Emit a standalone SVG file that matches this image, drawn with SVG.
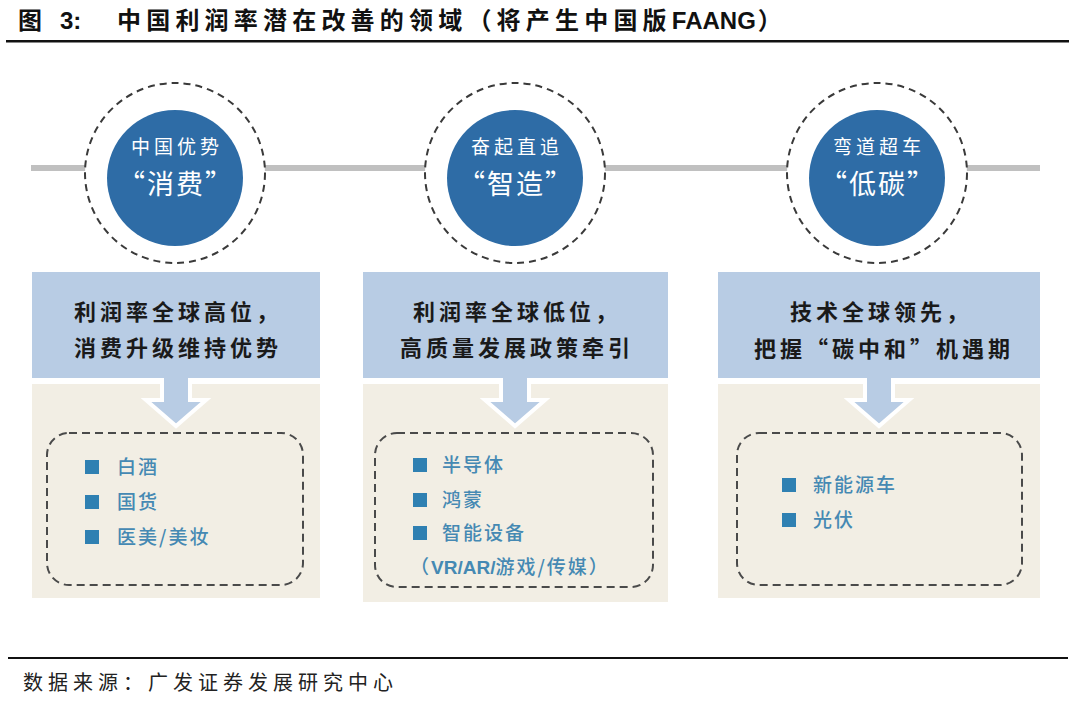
<svg xmlns="http://www.w3.org/2000/svg" width="1080" height="703" viewBox="0 0 1080 703">
<style>
.cjk{font-family:"Noto Sans CJK SC","Noto Sans",sans-serif}
.title{font-size:24px;font-weight:700;fill:#111}
.circ1{font-size:19px;fill:#fff;letter-spacing:4px}
.circ2{font-size:27px;fill:#fff;letter-spacing:2px}
.head{font-size:22px;font-weight:700;fill:#1a1a1a;letter-spacing:4px}
.item{font-size:19px;font-weight:500;fill:#4589b3;letter-spacing:2px}
.hdr{fill:#b8cce4}
.beige{fill:#f2eee4}
.dash{fill:none;stroke:#4a4a4a;stroke-width:2;stroke-dasharray:8 5}
.bul{fill:#2f80b2}
.arrow{fill:#b8cce4;stroke:#fff;stroke-width:4;stroke-linejoin:miter}
.outer{fill:#fff;stroke:#3a3a3a;stroke-width:2;stroke-dasharray:7 5}
.inner{fill:#2e6ca6}
</style>
<rect width="1080" height="703" fill="#fff"/>
<g id="title">
<text class="cjk title" x="18" y="29">图</text>
<text class="title" x="60" y="29" font-family="Liberation Sans, sans-serif">3:</text>
<text class="cjk title" x="117" y="29" letter-spacing="5.2">中国利润率潜在改善的领域（将产生中国版<tspan font-family="Liberation Sans, sans-serif" letter-spacing="0">FAANG</tspan><tspan dx="2">）</tspan></text>
<rect x="6" y="40" width="1063" height="2.5" fill="#111"/>
</g>
<g id="connectors">
<rect x="31" y="165" width="1009" height="6" fill="#c0c0c0"/>
</g>
<g id="node-consume">
<circle class="outer" cx="175" cy="173" r="90"/>
<circle class="inner" cx="175" cy="178" r="68"/>
<text class="cjk circ1" x="177" y="154" text-anchor="middle">中国优势</text>
<text class="cjk circ2" x="176" y="194" text-anchor="middle">“消费”</text>
</g>
<g id="node-manufacture">
<circle class="outer" cx="515" cy="173" r="90"/>
<circle class="inner" cx="515" cy="178" r="68"/>
<text class="cjk circ1" x="517" y="154" text-anchor="middle">奋起直追</text>
<text class="cjk circ2" x="516" y="194" text-anchor="middle">“智造”</text>
</g>
<g id="node-lowcarbon">
<circle class="outer" cx="877" cy="173" r="90"/>
<circle class="inner" cx="877" cy="178" r="68"/>
<text class="cjk circ1" x="879" y="154" text-anchor="middle">弯道超车</text>
<text class="cjk circ2" x="878" y="194" text-anchor="middle">“低碳”</text>
</g>
<g id="panel-consume">
<rect class="beige" x="32" y="384" width="288" height="214"/>
<polygon class="arrow" points="162,370 190,370 190,400 206,400 176,426 146,400 162,400"/>
<rect class="hdr" x="32" y="272" width="288" height="106"/>
<text class="cjk head" x="178" y="320" text-anchor="middle">利润率全球高位，</text>
<text class="cjk head" x="178" y="356" text-anchor="middle">消费升级维持优势</text>
<rect class="dash" x="47" y="433" width="256" height="152" rx="22"/>
<rect class="bul" x="85" y="460" width="14" height="14"/>
<rect class="bul" x="85" y="495" width="14" height="14"/>
<rect class="bul" x="85" y="530" width="14" height="14"/>
<text class="cjk item" x="117" y="474">白酒</text>
<text class="cjk item" x="117" y="509">国货</text>
<text class="cjk item" x="117" y="544">医美/美妆</text>
</g>
<g id="panel-manufacture">
<rect class="beige" x="363" y="384" width="305" height="218"/>
<polygon class="arrow" points="501,370 529,370 529,400 545,400 515,426 485,400 501,400"/>
<rect class="hdr" x="363" y="272" width="305" height="106"/>
<text class="cjk head" x="517" y="320" text-anchor="middle">利润率全球低位，</text>
<text class="cjk head" x="517" y="356" text-anchor="middle">高质量发展政策牵引</text>
<rect class="dash" x="375" y="433" width="278" height="154" rx="22"/>
<rect class="bul" x="413" y="458" width="14" height="14"/>
<rect class="bul" x="413" y="493" width="14" height="14"/>
<rect class="bul" x="413" y="526" width="14" height="14"/>
<text class="cjk item" x="442" y="472">半导体</text>
<text class="cjk item" x="442" y="507">鸿蒙</text>
<text class="cjk item" x="442" y="540">智能设备</text>
<text class="cjk item" x="410" y="574">（<tspan font-family="Liberation Sans, sans-serif" font-weight="700" letter-spacing="0">VR/AR/</tspan>游戏/传媒）</text>
</g>
<g id="panel-lowcarbon">
<rect class="beige" x="718" y="384" width="322" height="214"/>
<polygon class="arrow" points="865,370 893,370 893,400 909,400 879,426 849,400 865,400"/>
<rect class="hdr" x="718" y="272" width="322" height="106"/>
<text class="cjk head" x="881" y="320" text-anchor="middle">技术全球领先，</text>
<text class="cjk head" x="884" y="357" text-anchor="middle">把握“碳中和”机遇期</text>
<rect class="dash" x="737" y="433" width="285" height="152" rx="22"/>
<rect class="bul" x="782" y="478" width="14" height="14"/>
<rect class="bul" x="782" y="513" width="14" height="14"/>
<text class="cjk item" x="813" y="492">新能源车</text>
<text class="cjk item" x="813" y="527">光伏</text>
</g>
<g id="footer">
<rect x="8" y="657" width="1060" height="2" fill="#111"/>
<text class="cjk" x="23" y="690" font-size="20" letter-spacing="5" fill="#222">数据来源：广发证券发展研究中心</text>
</g>
</svg>
